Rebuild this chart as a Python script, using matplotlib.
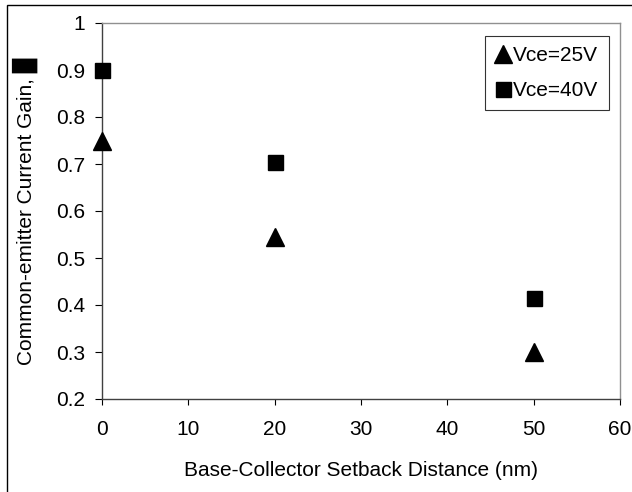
import numpy as np
import matplotlib
matplotlib.use("Agg")
import matplotlib.pyplot as plt
from matplotlib.patches import Rectangle

plt.rcParams['font.family'] = ['Liberation Sans', 'DejaVu Sans']

# setback distance (nm)
dist = [0, 20, 50]
gain_25v = [0.75, 0.545, 0.30]
gain_40v = [0.90, 0.705, 0.415]
xticks = [0, 10, 20, 30, 40, 50, 60]
yticks = [0.2, 0.3, 0.4, 0.5, 0.6, 0.7, 0.8, 0.9, 1.0]
ylabels = ['0.2', '0.3', '0.4', '0.5', '0.6', '0.7', '0.8', '0.9', '1']

fs = 15
fig = plt.figure(figsize=(6.32, 4.92), dpi=100)
W, H = 632, 492
ax = fig.add_axes([102 / W, 1 - 399 / H, 518 / W, 376 / H])

# outer chart border (runs off right/bottom edge)
fig.patches.append(Rectangle((7 / W, -0.05), 1.2, 1 - 5 / H + 0.05,
                             transform=fig.transFigure, fill=False,
                             edgecolor='black', linewidth=1.0))

ax.plot(dist, gain_25v, linestyle='none', marker='^', markersize=13,
        color='black', label='Vce=25V', clip_on=False, zorder=5)
ax.plot(dist, gain_40v, linestyle='none', marker='s', markersize=10.8,
        color='black', label='Vce=40V', clip_on=False, zorder=5)

ax.set_xlim(0, 60)
ax.set_ylim(0.2, 1.0)
ax.set_xticks(xticks)
ax.set_yticks(yticks)
ax.set_yticklabels(ylabels)
ax.tick_params(axis='both', direction='out', labelsize=fs, colors='black')
ax.tick_params(axis='y', length=5, width=0.8, pad=7)
ax.tick_params(axis='x', length=4, width=0.8, pad=11)
for s in ['left', 'bottom']:
    ax.spines[s].set_color('#404040')
    ax.spines[s].set_linewidth(1.0)
for s in ['top', 'right']:
    ax.spines[s].set_color('#909090')
    ax.spines[s].set_linewidth(1.0)
for t in ax.get_xticklines() + ax.get_yticklines():
    t.set_color('#404040')

ax.set_xlabel('Base-Collector Setback Distance (nm)', fontsize=fs)
ax.xaxis.set_label_coords(0.5, -62 / 376)
ax.set_ylabel('Common-emitter Current Gain, \u2588', fontsize=fs)
ax.yaxis.set_label_coords(-64 / 518, 0.5)

leg = ax.legend(loc='upper right', bbox_to_anchor=(507 / 518, 363 / 376),
                frameon=True, fancybox=False, fontsize=fs, markerscale=1.0,
                handlelength=0.75, handletextpad=0.1, borderpad=0.5,
                labelspacing=0.75, borderaxespad=0)
leg.get_frame().set_edgecolor('black')
leg.get_frame().set_linewidth(0.8)

fig.savefig('out.png', dpi=100)
